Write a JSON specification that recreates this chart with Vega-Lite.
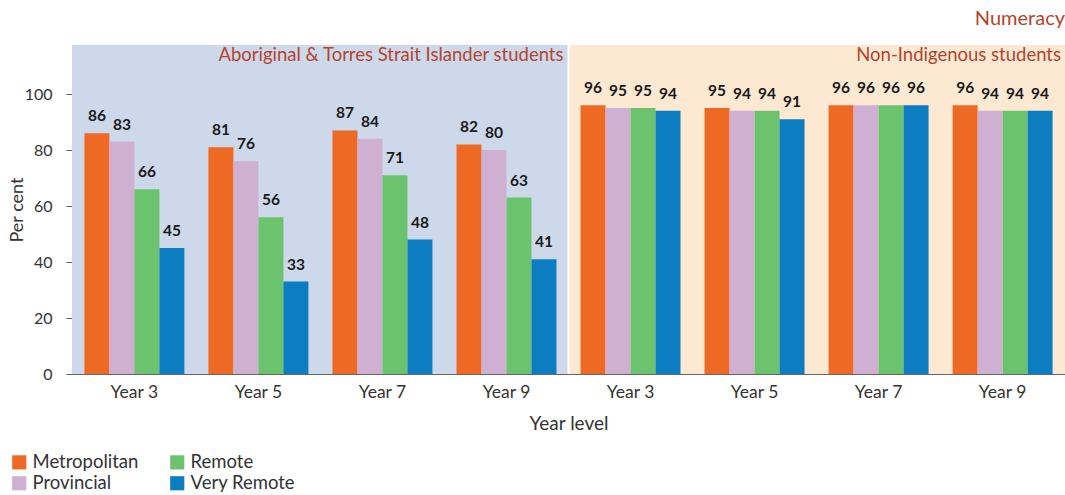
{
  "$schema": "https://vega.github.io/schema/vega-lite/v6.json",
  "width": 993,
  "height": 329,
  "autosize": "none",
  "padding": {"left": 72, "top": 45, "right": 0, "bottom": 121},
  "title": {"text": "Numeracy", "anchor": "end", "color": "#B3452F", "fontSize": 20, "fontWeight": "normal", "font": "Lato", "offset": 16},
  "config": {
    "view": {"stroke": null},
    "font": "Lato",
    "axis": {"labelFont": "Lato", "titleFont": "Lato", "labelColor": "#333333", "titleColor": "#333333", "domainColor": "#666666", "tickColor": "#666666", "grid": false, "titleFontWeight": "normal"},
    "legend": {"labelFont": "Lato"}
  },
  "datasets": {
    "panels": [
      {"panel": "Aboriginal & Torres Strait Islander students", "top": 117.5, "texty": 114},
      {"panel": "Non-Indigenous students", "top": 117.5, "texty": 114}
    ],
    "bars": [
      {"group": "A3", "region": "Metropolitan", "value": 86},
      {"group": "A3", "region": "Provincial", "value": 83},
      {"group": "A3", "region": "Remote", "value": 66},
      {"group": "A3", "region": "Very Remote", "value": 45},
      {"group": "A5", "region": "Metropolitan", "value": 81},
      {"group": "A5", "region": "Provincial", "value": 76},
      {"group": "A5", "region": "Remote", "value": 56},
      {"group": "A5", "region": "Very Remote", "value": 33},
      {"group": "A7", "region": "Metropolitan", "value": 87},
      {"group": "A7", "region": "Provincial", "value": 84},
      {"group": "A7", "region": "Remote", "value": 71},
      {"group": "A7", "region": "Very Remote", "value": 48},
      {"group": "A9", "region": "Metropolitan", "value": 82},
      {"group": "A9", "region": "Provincial", "value": 80},
      {"group": "A9", "region": "Remote", "value": 63},
      {"group": "A9", "region": "Very Remote", "value": 41},
      {"group": "N3", "region": "Metropolitan", "value": 96},
      {"group": "N3", "region": "Provincial", "value": 95},
      {"group": "N3", "region": "Remote", "value": 95},
      {"group": "N3", "region": "Very Remote", "value": 94},
      {"group": "N5", "region": "Metropolitan", "value": 95},
      {"group": "N5", "region": "Provincial", "value": 94},
      {"group": "N5", "region": "Remote", "value": 94},
      {"group": "N5", "region": "Very Remote", "value": 91},
      {"group": "N7", "region": "Metropolitan", "value": 96},
      {"group": "N7", "region": "Provincial", "value": 96},
      {"group": "N7", "region": "Remote", "value": 96},
      {"group": "N7", "region": "Very Remote", "value": 96},
      {"group": "N9", "region": "Metropolitan", "value": 96},
      {"group": "N9", "region": "Provincial", "value": 94},
      {"group": "N9", "region": "Remote", "value": 94},
      {"group": "N9", "region": "Very Remote", "value": 94}
    ]
  },
  "layer": [
    {
      "data": {"name": "panels"},
      "encoding": {
        "x": {"field": "panel", "type": "nominal", "sort": null, "scale": {"paddingInner": 0.004, "paddingOuter": 0}, "axis": null}
      },
      "layer": [
        {
          "mark": {"type": "rect"},
          "encoding": {
            "y": {"field": "top", "type": "quantitative", "scale": {"domain": [0, 117.5], "nice": false},
              "axis": {"title": "Per cent", "values": [0, 20, 40, 60, 80, 100], "labelFontSize": 16, "titleFontSize": 18, "tickSize": 6, "labelPadding": 14, "titlePadding": -2}},
            "y2": {"datum": 0},
            "fill": {"field": "panel", "type": "nominal", "scale": {"domain": ["Aboriginal & Torres Strait Islander students", "Non-Indigenous students"], "range": ["#CDD9EB", "#FDE8D1"]}, "legend": null}
          }
        },
        {
          "mark": {"type": "text", "align": "right", "baseline": "middle", "dx": -4, "fontSize": 18.5, "color": "#B3452F", "font": "Lato"},
          "encoding": {
            "x": {"field": "panel", "type": "nominal", "sort": null, "bandPosition": 1},
            "y": {"field": "texty", "type": "quantitative"},
            "text": {"field": "panel"}
          }
        }
      ]
    },
    {
      "data": {"name": "bars"},
      "encoding": {
        "x": {"field": "group", "type": "nominal", "sort": null, "scale": {"paddingInner": 0.194, "paddingOuter": 0.1},
          "axis": {"title": "Year level", "labelExpr": "'Year ' + slice(datum.label, 1)", "labelAngle": 0, "labelFontSize": 17.5, "titleFontSize": 19, "ticks": false, "labelPadding": 9, "titlePadding": 14, "domainColor": "#666666"}},
        "xOffset": {"field": "region", "type": "nominal", "sort": ["Metropolitan", "Provincial", "Remote", "Very Remote"], "scale": {"paddingInner": 0, "paddingOuter": 0}},
        "y": {"field": "value", "type": "quantitative", "scale": {"domain": [0, 117.5], "nice": false},
          "axis": {"title": "Per cent", "values": [0, 20, 40, 60, 80, 100], "labelFontSize": 16, "titleFontSize": 18, "tickSize": 6, "labelPadding": 14, "titlePadding": -2}}
      },
      "layer": [
        {
          "mark": {"type": "bar"},
          "encoding": {
            "color": {"field": "region", "type": "nominal",
              "scale": {"domain": ["Metropolitan", "Provincial", "Remote", "Very Remote"], "range": ["#EE6A24", "#CFB0D2", "#6CC36D", "#0C7DC0"]},
              "legend": {"orient": "none", "legendX": -62, "legendY": 408, "columns": 2, "title": null, "symbolType": "square", "symbolSize": 200, "symbolStrokeWidth": 0, "labelFontSize": 18.5, "labelColor": "#333333", "columnPadding": 29, "rowPadding": 2, "symbolOpacity": 1}}
          }
        },
        {
          "mark": {"type": "text", "baseline": "bottom", "dy": -9, "fontSize": 15.5, "fontWeight": "bold", "color": "#1a1a1a", "font": "Lato"},
          "encoding": {"text": {"field": "value", "type": "quantitative"}}
        }
      ]
    }
  ],
  "resolve": {"scale": {"x": "independent"}}
}
